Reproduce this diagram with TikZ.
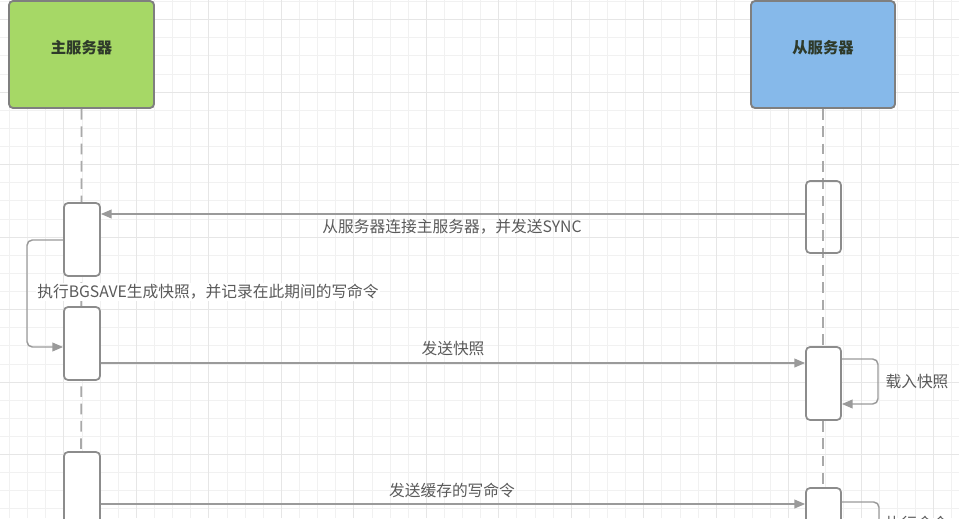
\documentclass[tikz,border=0pt]{standalone}
\usepackage{fontspec}
\setmainfont{Noto Sans CJK SC}
\usetikzlibrary{arrows.meta,fit}
\definecolor{gridminor}{HTML}{F1F1F1}
\definecolor{gridmajor}{HTML}{E6E6E6}
\definecolor{mastergreen}{HTML}{A6D866}
\definecolor{slaveblue}{HTML}{86B9EA}
\definecolor{boxborder}{HTML}{7F7F7F}
\definecolor{linegray}{HTML}{9A9A9A}
\definecolor{labelgray}{HTML}{5A5A5A}
\definecolor{headtext}{HTML}{2E3A2A}
\tikzset{
  minorgrid/.style={draw=gridminor, line width=0.75pt},
  majorgrid/.style={draw=gridmajor, line width=0.9pt},
  headbox/.style={draw=boxborder, line width=1.4pt, rounded corners=3pt, inner sep=0pt,
    font=\fontsize{11.5}{13}\selectfont\bfseries, text=headtext},
  lifeline/.style={draw=linegray!85, line width=1.3pt, dash pattern=on 8pt off 5pt},
  actbox/.style={draw=boxborder!90, line width=1.3pt, rounded corners=3pt, inner sep=0pt},
  msg/.style={draw=linegray, line width=1.1pt, -{Triangle[length=8pt,width=6.5pt]}},
  selfmsg/.style={msg, rounded corners=4pt},
  msglabel/.style={font=\fontsize{11.8}{13}\selectfont, text=labelgray, inner sep=1pt}
}
\begin{document}
\begin{tikzpicture}[x=0.75pt,y=-0.75pt]
\useasboundingbox (0,0) rectangle (959,518);
\clip (0,0) rectangle (959,518);
\fill[white] (0,0) rectangle (959,518);
% grid
\foreach \i in {0,...,53} \draw[minorgrid] ({9.6+18.12*\i},0) -- ++(0,518);
\foreach \i in {0,...,28} \draw[minorgrid] (0,{1.6+18.12*\i}) -- ++(959,0);
\foreach \i in {0,...,13} \draw[majorgrid] ({-8.8+72.5*\i},0) -- ++(0,518);
\foreach \i in {0,...,7} \draw[majorgrid] (0,{19.8+72.5*\i}) -- ++(959,0);
% heads
\node[headbox, fill=mastergreen, fit={(9,1) (154,108)}] (master) {主服务器};
\node[headbox, fill=slaveblue, fit={(751,1) (895,108)}] (slave) {从服务器};
% lifelines
\coordinate (mend) at (81,530);
\coordinate (send) at (823,530);
\draw[lifeline] (master.south) -- (mend);
\draw[lifeline] (slave.south) -- (send);
% activation boxes
\node[actbox, fill=white, fit={(64,203) (100,276)}] (m1) {};
\node[actbox, fill=white, fit={(64,307) (100,380)}] (m2) {};
\node[actbox, fill=white, fit={(64,452) (100,560)}] (m3) {};
\node[actbox, fit={(806,181) (841,253)}] (s1) {};
\node[actbox, fill=white, fit={(806,347) (841,420)}] (s2) {};
\node[actbox, fill=white, fit={(806,488) (841,560)}] (s3) {};
% message rows
\coordinate (r1) at (0,214);
\coordinate (r2) at (0,363);
\coordinate (r3) at (0,504);
\draw[msg] (s1.west |- r1) -- (m1.east |- r1);
\node[msglabel] (l1) at (452,227) {从服务器连接主服务器，并发送SYNC};
% master self loop
\draw[selfmsg] (m1.west |- 0,240) -- (27,240) |- (m2.west |- 0,347);
\node[msglabel, fill=white] (l2) at (208,292) {执行BGSAVE生成快照，并记录在此期间的写命令};
% snapshot
\draw[msg] (m2.east |- r2) -- (s2.west |- r2);
\node[msglabel] (l3) at (453,349) {发送快照};
% slave self loop
\draw[selfmsg] (s2.east |- 0,359) -- (878,359) |- (s2.east |- 0,404);
\node[msglabel] (l4) at (917,382) {载入快照};
% buffered commands
\draw[msg] (m3.east |- r3) -- (s3.west |- r3);
\node[msglabel] (l5) at (452,490) {发送缓存的写命令};
\draw[selfmsg] (s3.east |- 0,502) -- (879,502) |- (s3.east |- 0,545);
\node[msglabel] (l6) at (917,523) {执行命令};
\end{tikzpicture}
\end{document}
